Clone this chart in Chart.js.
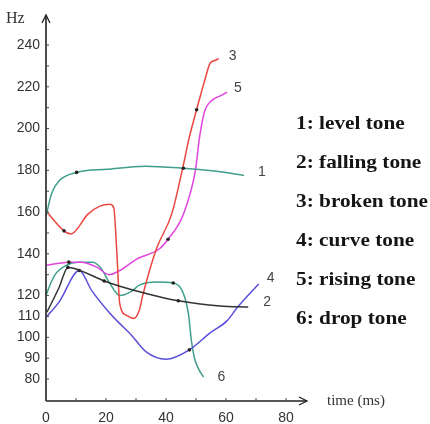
<!DOCTYPE html>
<html>
<head>
<meta charset="utf-8">
<script src="https://cdn.jsdelivr.net/npm/chart.js@4"></script>
<style>
  html, body { margin: 0; padding: 0; background: #ffffff; }
  #c { display: block; }
</style>
</head>
<body>
<canvas id="c" width="430" height="424"></canvas>
<script>
// ---------- data (time in ms, pitch in Hz) ----------
const levelT   = [0, 1.9, 4.4, 10.2, 20.3, 33.1, 45.8, 56.9, 66];
const levelHz  = [158, 169, 175, 179, 180.5, 182, 181, 179.5, 177.5];

const fallingT  = [0.3, 4.4, 7.3, 9.5, 19.4, 24.6, 33.4, 44.1, 58, 67.4];
const fallingHz = [112, 124, 133.5, 133, 127, 124.5, 121, 117.5, 115, 114.5];

const brokenT  = [0.3, 6, 8.3, 14, 17.8, 21.3, 22.6, 23.6, 24.6, 26.9, 29.2, 31.1, 32.4, 36.7, 42, 45.4, 47.8, 50.2, 53.2, 54.6, 56.3, 57.6];
const brokenHz = [160, 151, 149.5, 159, 162.7, 163.7, 162, 141, 116, 110.5, 109, 113, 121, 142, 159.5, 180, 196, 209, 224.6, 231, 232.6, 233.5];

const curveT  = [0.3, 4.4, 11.1, 15.2, 20.7, 23.6, 28.5, 33.4, 40, 47.8, 54.6, 60.4, 63.9, 70.9];
const curveHz = [110, 117, 132, 122.5, 112.5, 108, 101, 93, 89.5, 94, 102, 108, 114.5, 125.5];

const risingT  = [0.3, 4.4, 7.6, 11.7, 17.1, 21, 24.6, 30.2, 37.7, 40.7, 45.8, 49.8, 51.2, 52.9, 55.3, 58.6, 60.3];
const risingHz = [134.5, 135.5, 136, 136, 133.5, 130, 132, 137.5, 142.3, 147, 159, 180, 196, 208.3, 213.5, 216, 217.4];

const dropT  = [0, 1.9, 3.5, 6.7, 10.8, 15.6, 18.4, 21, 24.6, 28.5, 31.1, 36.7, 42.4, 45.8, 47.5, 48.5, 49.5, 50.8, 52.5];
const dropHz = [120, 127, 131, 134.5, 136, 136, 133, 126.5, 120, 122, 125, 126.5, 126, 121, 111, 98, 90, 85, 81];

// indices of the small dark marks drawn on each contour
const levelMarks   = [3, 6];
const fallingMarks = [2, 4, 7];
const brokenMarks  = [1, 17];
const curveMarks   = [2, 9];
const risingMarks  = [2, 9];
const dropMarks    = [12];

const curveNumbers = ["1", "2", "3", "4", "5", "6"];
const legendLines = ["1: level tone", "2: falling tone", "3: broken tone", "4: curve tone", "5: rising tone", "6: drop tone"];

const yTickValues = [80, 90, 100, 110, 120, 130, 140, 150, 160, 170, 180, 190, 200, 210, 220, 230, 240];
const yTickLabels = [80, 90, 100, 110, 120, 140, 160, 180, 200, 220, 240];
const xTickValues = [0, 10, 20, 30, 40, 50, 60, 70, 80];
const xTickLabels = [0, 20, 40, 60, 80];

// ---------- styling ----------
const colors = ["#3f9f8c", "#333333", "#ea4740", "#5b4fd9", "#e044e0", "#3f9f8c"];
const labelOffsets = [[14, -3], [15, -5], [10, -2], [8, -6], [7, -4], [14, 0]];

function pts(t, v) { return t.map((x, i) => ({ x: x, y: v[i] })); }
const series = [
  pts(levelT, levelHz), pts(fallingT, fallingHz), pts(brokenT, brokenHz),
  pts(curveT, curveHz), pts(risingT, risingHz), pts(dropT, dropHz)
];
const marks = [levelMarks, fallingMarks, brokenMarks, curveMarks, risingMarks, dropMarks];

const decor = {
  id: 'decor',
  afterDraw(chart) {
    const ctx = chart.ctx;
    const a = chart.chartArea;
    const xs = chart.scales.x, ys = chart.scales.y;
    ctx.save();
    // axes lines
    ctx.strokeStyle = '#222';
    ctx.lineWidth = 1.6;
    ctx.beginPath();
    ctx.moveTo(a.left, a.bottom); ctx.lineTo(a.left, a.top);
    ctx.moveTo(a.left, a.bottom); ctx.lineTo(a.right, a.bottom);
    ctx.stroke();
    // arrows
    ctx.lineWidth = 1.3;
    ctx.beginPath();
    ctx.moveTo(a.left - 4, a.top + 8); ctx.lineTo(a.left, a.top); ctx.lineTo(a.left + 4, a.top + 8);
    ctx.moveTo(a.right - 8, a.bottom - 4); ctx.lineTo(a.right, a.bottom); ctx.lineTo(a.right - 8, a.bottom + 4);
    ctx.stroke();
    // inner tick marks
    ctx.lineWidth = 1;
    ctx.strokeStyle = '#444';
    ctx.beginPath();
    yTickValues.forEach(v => { const p = ys.getPixelForValue(v); ctx.moveTo(a.left, p); ctx.lineTo(a.left + 3, p); });
    xTickValues.forEach(v => { const p = xs.getPixelForValue(v); ctx.moveTo(p, a.bottom); ctx.lineTo(p, a.bottom - 3); });
    ctx.stroke();
    // axis titles
    ctx.fillStyle = '#333';
    ctx.textBaseline = 'middle';
    ctx.textAlign = 'left';
    ctx.font = '16px "Liberation Serif", serif';
    ctx.fillText('Hz', 6, 19);
    ctx.font = '15px "Liberation Serif", serif';
    ctx.fillText('time (ms)', 327, 401);
    // curve numbers at the end of each curve
    ctx.font = '14px "Liberation Sans", Arial, sans-serif';
    ctx.fillStyle = '#444';
    series.forEach((s, i) => {
      const last = s[s.length - 1];
      const px = xs.getPixelForValue(last.x) + labelOffsets[i][0];
      const py = ys.getPixelForValue(last.y) + labelOffsets[i][1];
      ctx.fillText(curveNumbers[i], px, py);
    });
    // legend text block (slightly wide bold serif)
    ctx.font = 'bold 19px "Liberation Serif", serif';
    ctx.fillStyle = '#151515';
    legendLines.forEach((t, i) => {
      ctx.save();
      ctx.translate(296, 124 + i * 39);
      ctx.scale(1.12, 1);
      ctx.fillText(t, 0, 0);
      ctx.restore();
    });
    ctx.restore();
  }
};

new Chart(document.getElementById('c'), {
  type: 'line',
  data: {
    datasets: series.map((s, i) => ({
      data: s,
      borderColor: colors[i],
      borderWidth: 1.5,
      pointRadius: c => marks[i].includes(c.dataIndex) ? 1.8 : 0,
      pointBackgroundColor: '#222',
      pointBorderColor: '#222',
      pointBorderWidth: 0,
      fill: false,
      cubicInterpolationMode: 'monotone'
    }))
  },
  options: {
    responsive: false,
    animation: false,
    layout: { padding: { top: 15, right: 123, left: 0, bottom: 0 } },
    plugins: { legend: { display: false }, tooltip: { enabled: false } },
    scales: {
      x: {
        type: 'linear', min: 0, max: 87,
        afterBuildTicks: s => { s.ticks = xTickLabels.map(v => ({ value: v })); },
        afterFit: s => { s.height = 23; },
        grid: { display: false, drawTicks: false },
        border: { display: false },
        ticks: { autoSkip: false, maxRotation: 0, padding: 9, color: '#333',
                 font: { family: '"Liberation Sans", Arial, sans-serif', size: 14 } }
      },
      y: {
        type: 'linear', min: 69.5, max: 254.4,
        afterBuildTicks: s => { s.ticks = yTickValues.map(v => ({ value: v })); },
        afterFit: s => { s.width = 46; },
        grid: { display: false, drawTicks: false },
        border: { display: false },
        ticks: { autoSkip: false, padding: 6, color: '#333',
                 callback: v => yTickLabels.includes(v) ? String(v) : '',
                 font: { family: '"Liberation Sans", Arial, sans-serif', size: 14 } }
      }
    }
  },
  plugins: [decor]
});
</script>
</body>
</html>
